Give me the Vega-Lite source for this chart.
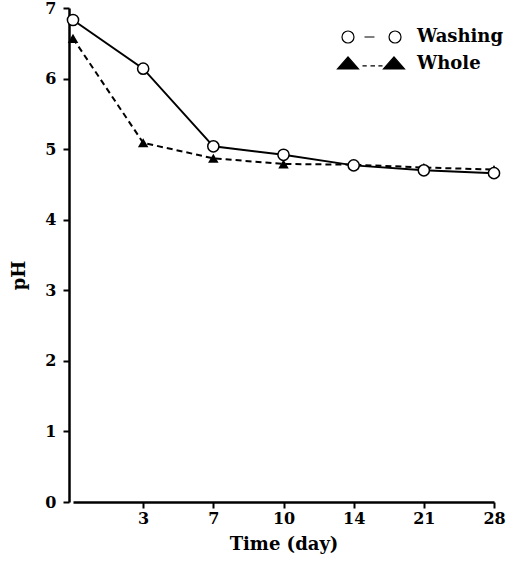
{
  "$schema": "https://vega.github.io/schema/vega-lite/v6.json",
  "width": 425,
  "height": 494,
  "autosize": "none",
  "padding": {"left": 69, "top": 8, "right": 20, "bottom": 59},
  "background": "white",
  "config": {
    "view": {"stroke": null},
    "font": "DejaVu Serif",
    "axis": {"grid": false, "domainColor": "black", "domainWidth": 2.5, "labelColor": "black", "titleColor": "black", "labelFontWeight": "bold", "titleFontWeight": "bold", "labelFontSize": 16, "titleFontSize": 18}
  },
  "data": {
    "values": [
      {"day": 0, "pH": 6.83, "series": "Washing"},
      {"day": 3, "pH": 6.14, "series": "Washing"},
      {"day": 7, "pH": 5.04, "series": "Washing"},
      {"day": 10, "pH": 4.92, "series": "Washing"},
      {"day": 14, "pH": 4.77, "series": "Washing"},
      {"day": 21, "pH": 4.7, "series": "Washing"},
      {"day": 28, "pH": 4.66, "series": "Washing"},
      {"day": 0, "pH": 6.57, "series": "Whole"},
      {"day": 3, "pH": 5.09, "series": "Whole"},
      {"day": 7, "pH": 4.87, "series": "Whole"},
      {"day": 10, "pH": 4.79, "series": "Whole"},
      {"day": 14, "pH": 4.78, "series": "Whole"},
      {"day": 21, "pH": 4.74, "series": "Whole"},
      {"day": 28, "pH": 4.71, "series": "Whole"}
    ]
  },
  "encoding": {
    "x": {
      "field": "day", "type": "ordinal",
      "scale": {"type": "point", "domain": [0, 3, 7, 10, 14, 21, 28], "range": [4, 425], "padding": 0},
      "axis": {"values": [3, 7, 10, 14, 21, 28], "ticks": true, "tickSize": 6, "tickWidth": 2, "tickColor": "#000000", "tickOpacity": 1, "labelAngle": 0, "labelPadding": 2, "title": "Time (day)", "titlePadding": 9}
    },
    "y": {
      "field": "pH", "type": "quantitative",
      "scale": {"domain": [0, 7], "nice": false, "zero": true},
      "axis": {"values": [0, 1, 2, 3, 4, 5, 6, 7], "ticks": true, "tickSize": 6, "tickWidth": 2, "tickColor": "#000000", "tickOpacity": 1, "labelPadding": 7, "title": "pH", "titlePadding": 16, "titleY": 267}
    }
  },
  "layer": [
    {
      "transform": [{"filter": "datum.series === 'Washing'"}],
      "mark": {"type": "line", "color": "black", "strokeWidth": 2},
      "encoding": {}
    },
    {
      "transform": [{"filter": "datum.series === 'Whole'"}],
      "mark": {"type": "line", "color": "black", "strokeWidth": 2, "strokeDash": [6, 4]},
      "encoding": {}
    },
    {
      "transform": [{"filter": "datum.series === 'Whole'"}],
      "mark": {"type": "point", "shape": "triangle-up", "filled": true, "color": "black", "size": 110, "opacity": 1},
      "encoding": {}
    },
    {
      "transform": [{"filter": "datum.series === 'Washing'"}],
      "mark": {"type": "point", "shape": "circle", "filled": true, "fill": "white", "stroke": "black", "strokeWidth": 1.5, "size": 125, "opacity": 1},
      "encoding": {}
    },
    {
      "mark": {"type": "point", "filled": true, "strokeWidth": 1.2, "opacity": 1, "size": 0},
      "encoding": {
        "shape": {"field": "series", "type": "nominal", "scale": {"domain": ["Washing", "Whole"], "range": ["M0.8,0A0.8,0.8,0,1,1,-0.8,0A0.8,0.8,0,1,1,0.8,0ZM2.2,0L3.53,0M7.07,0A0.8,0.8,0,1,1,5.47,0A0.8,0.8,0,1,1,7.07,0Z", "M0,-0.95L1.4,0.65L-1.4,0.65ZM1.93,0.25L2.5,0.25M3.0,0.25L3.6,0.25M4.05,0.25L4.6,0.25M6.13,-0.95L7.53,0.65L4.73,0.65Z"]},
          "legend": {
            "orient": "none", "legendX": 270, "legendY": 20, "title": null, "padding": 0,
            "symbolSize": 225, "symbolStrokeWidth": 1.2, "symbolStrokeColor": "black", "symbolOpacity": 1,
            "labelFont": "DejaVu Serif", "labelFontWeight": "bold", "labelFontSize": 18, "labelColor": "black",
            "labelOffset": 60, "rowPadding": 8
          }
        },
        "fill": {"field": "series", "type": "nominal", "scale": {"domain": ["Washing", "Whole"], "range": ["white", "black"]}},
        "stroke": {"field": "series", "type": "nominal", "scale": {"domain": ["Washing", "Whole"], "range": ["black", "black"]}}
      }
    }
  ]
}
